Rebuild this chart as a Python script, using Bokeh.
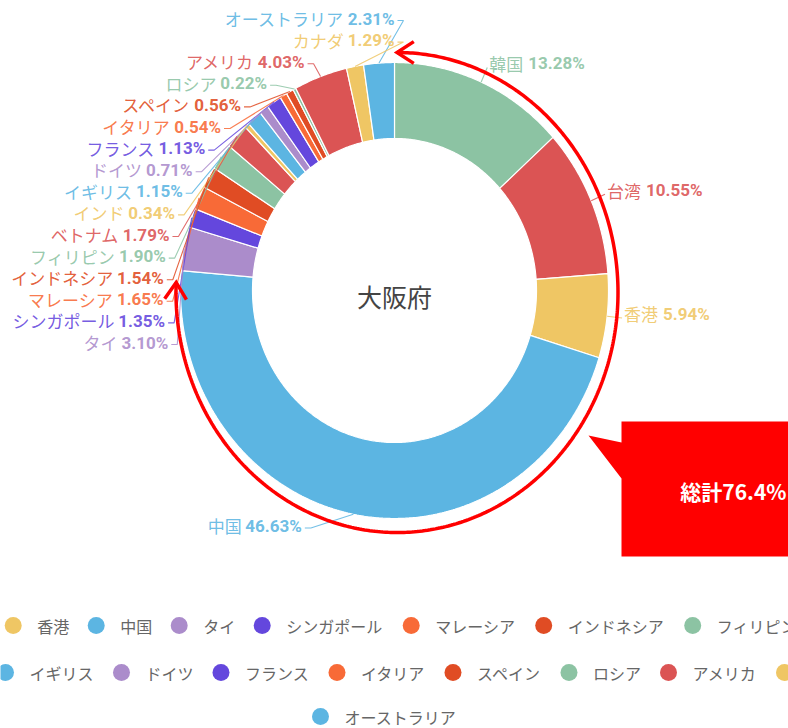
import numpy as np
from bokeh.plotting import figure
from bokeh.models import Range1d
from bokeh.core.properties import value
from bokeh.embed import file_html
from bokeh.resources import INLINE

# ---------------- data ----------------
categories = ["韓国", "台湾", "香港", "中国", "タイ", "シンガポール", "マレーシア",
              "インドネシア", "フィリピン", "ベトナム", "インド", "イギリス", "ドイツ",
              "フランス", "イタリア", "スペイン", "ロシア", "アメリカ", "カナダ",
              "オーストラリア"]
shares = [13.28, 10.55, 5.94, 46.63, 3.10, 1.35, 1.65, 1.54, 1.90, 1.79, 0.34,
          1.15, 0.71, 1.13, 0.54, 0.56, 0.22, 4.03, 1.29, 2.31]
center_title = "大阪府"
total_text = "総計76.4%"
palette = ["#8cc3a3", "#db5454", "#efc664", "#5cb5e2", "#ab8ccb", "#6447dd",
           "#f86a37", "#e04c24"]
legend_rows = [categories[0:11], categories[11:19], categories[19:20]]

# ---------------- layout constants ----------------
W, H = 788, 728
CX, CY = 394.0, 290.0
RXO, RYO = 214.0, 228.0
RXI, RYI = 142.0, 152.0
STR = RYO / RXO
LEN1 = 15.0
LABEL_TOP, LABEL_STEP = 18.0, 21.6
LA, LB_TOP, LB_BOT = 231.0, 248.4, 257.0
LFS = 17.0
ECX, ECY, ERX, ERY = 396.5, 292.0, 221.0, 240.0
ARC_END_DEG = 272.4
LEG_Y = [625, 672, 716]
LEG_X0 = [-153.3, 5.0, 320.0]
LEG_CHAR = 16.5

p = figure(width=W, height=H, x_range=Range1d(0, W), y_range=Range1d(H, 0),
           output_backend="svg", toolbar_location=None, min_border=0,
           x_axis_location=None, y_axis_location=None)
p.grid.visible = False
p.outline_line_color = None
p.background_fill_color = "white"

# ---------------- donut slices ----------------
vals = np.array(shares, dtype=float)
ang = np.concatenate([[0.0], np.cumsum(vals)]) / vals.sum() * 2 * np.pi
colors = [palette[i % len(palette)] for i in range(len(categories))]
xs, ys = [], []
for a0, a1 in zip(ang[:-1], ang[1:]):
    n = max(3, int(np.degrees(a1 - a0) * 2) + 2)
    t = np.linspace(a0, a1, n)
    ox = CX + RXO * np.sin(t)
    oy = CY - RYO * np.cos(t)
    ix = CX + RXI * np.sin(t[::-1])
    iy = CY - RYI * np.cos(t[::-1])
    xs.append(np.concatenate([ox, ix]).tolist())
    ys.append(np.concatenate([oy, iy]).tolist())
p.patches(xs, ys, fill_color=colors, line_color="white", line_width=1.2)

# ---------------- labels ----------------
mids = (ang[:-1] + ang[1:]) / 2


def val_width(s, fs):
    w = 0.0
    for ch in s:
        if ch.isdigit():
            w += 0.562
        elif ch == ".":
            w += 0.27
        elif ch == "%":
            w += 0.73
        else:
            w += 0.5
    return w * fs


name_l = dict(x=[], y=[], text=[], color=[], align=[])
val_l = dict(x=[], y=[], text=[], color=[], align=[])
lead_x, lead_y, lead_c = [], [], []

right = [i for i in range(len(categories)) if mids[i] < np.pi]
left = sorted([i for i in range(len(categories)) if mids[i] >= np.pi], key=lambda i: -mids[i])

for i in right:
    m = mids[i]
    p0 = (CX + RXO * np.sin(m), CY - RYO * np.cos(m))
    p1 = (CX + (RXO + LEN1) * np.sin(m), CY - (RXO + LEN1) * STR * np.cos(m))
    ty = p1[1] - 4
    xs0 = p1[0] + 2
    vtxt = f"{shares[i]:.2f}%"
    name_l["x"].append(xs0); name_l["y"].append(ty); name_l["text"].append(categories[i])
    name_l["color"].append(colors[i]); name_l["align"].append("left")
    val_l["x"].append(xs0 + len(categories[i]) * LFS + 5); val_l["y"].append(ty)
    val_l["text"].append(vtxt); val_l["color"].append(colors[i]); val_l["align"].append("left")
    lead_x.append([p0[0], p1[0]]); lead_y.append([p0[1], p1[1]]); lead_c.append(colors[i])

for k, i in enumerate(left):
    m = mids[i]
    p0 = (CX + RXO * np.sin(m), CY - RYO * np.cos(m))
    nat_y = CY - (RXO + LEN1) * STR * np.cos(m) - 4
    stacked = LABEL_TOP + LABEL_STEP * k
    ty = max(nat_y, stacked) if nat_y > CY else stacked
    lb = LB_BOT if ty > CY else LB_TOP
    q = 1 - ((ty - CY) / lb) ** 2
    tend = CX - LA * np.sqrt(max(0.0, q))
    vtxt = f"{shares[i]:.2f}%"
    vw = val_width(vtxt, LFS)
    val_l["x"].append(tend); val_l["y"].append(ty); val_l["text"].append(vtxt)
    val_l["color"].append(colors[i]); val_l["align"].append("right")
    name_l["x"].append(tend - vw - 5); name_l["y"].append(ty); name_l["text"].append(categories[i])
    name_l["color"].append(colors[i]); name_l["align"].append("right")
    lead_x.append([p0[0], tend + 9, tend + 3]); lead_y.append([p0[1], ty + 2, ty + 2])
    lead_c.append(colors[i])

p.multi_line(lead_x, lead_y, line_color=lead_c, line_width=1.1, line_alpha=0.85)
p.text(x="x", y="y", text="text", text_color="color", text_align="align", source=name_l,
       text_font=value("Noto Sans CJK JP"), text_font_size=f"{LFS}px", text_baseline="middle",
       text_alpha=0.9)
p.text(x="x", y="y", text="text", text_color="color", text_align="align", source=val_l,
       text_font=value("Roboto"), text_font_style="bold", text_font_size=f"{LFS}px",
       text_baseline="middle", text_alpha=0.9)

# ---------------- center title ----------------
p.text(x=[CX], y=[CY + 5], text=[center_title], text_font=value("Noto Sans CJK JP"),
       text_font_size="25px", text_color="#444444", text_align="center", text_baseline="middle")

# ---------------- red annotation arc with arrowheads ----------------
th = np.linspace(0, np.radians(ARC_END_DEG), 400)
p.line(ECX + ERX * np.sin(th), ECY - ERY * np.cos(th), line_color="#ff0000", line_width=3.5)


def head(theta, sign):
    tip = np.array([ECX + ERX * np.sin(theta), ECY - ERY * np.cos(theta)])
    tan = np.array([ERX * np.cos(theta), ERY * np.sin(theta)]) * sign
    tan = tan / np.linalg.norm(tan)
    out = []
    for a in (np.radians(33), -np.radians(33)):
        r = np.array([[np.cos(a), -np.sin(a)], [np.sin(a), np.cos(a)]]) @ tan
        out.append(tip + 20 * r)
    return [out[0][0], tip[0], out[1][0]], [out[0][1], tip[1], out[1][1]]


h1 = head(0.0, 1)
h2 = head(np.radians(ARC_END_DEG), -1)
p.multi_line([h1[0], h2[0]], [h1[1], h2[1]], line_color="#ff0000", line_width=3.5,
             line_join="miter")

# ---------------- callout ----------------
call_x = [588, 621, 621, 800, 800, 621, 621]
call_y = [435, 442, 421, 421, 556, 556, 478]
p.patch(call_x, call_y, fill_color="#ff0000", line_color=None)
p.text(x=[786], y=[490], text=[total_text], text_font=value("Noto Sans CJK JP"),
       text_font_style="bold", text_font_size="21px", text_color="white",
       text_align="right", text_baseline="middle")

# ---------------- legend ----------------
lc_x, lc_y, lc_c = [], [], []
lt_x, lt_y, lt_t = [], [], []
cmap = dict(zip(categories, colors))
for row, y, x0 in zip(legend_rows, LEG_Y, LEG_X0):
    x = x0
    for name in row:
        if x + 8.5 > 0 and x - 8.5 < W:
            lc_x.append(x); lc_y.append(y); lc_c.append(cmap[name])
        if x + 24 < W and x + 24 + len(name) * LEG_CHAR > 0:
            lt_x.append(x + 24); lt_y.append(y); lt_t.append(name)
        x += 50 + LEG_CHAR * len(name)
p.scatter(lc_x, lc_y, size=17, fill_color=lc_c, line_color=None)
p.text(lt_x, lt_y, text=lt_t, text_font=value("Noto Sans CJK JP"), text_font_size="16px",
       text_color="#666666", text_baseline="middle")

open("out.html", "w").write(file_html(p, INLINE, title="大阪府"))
